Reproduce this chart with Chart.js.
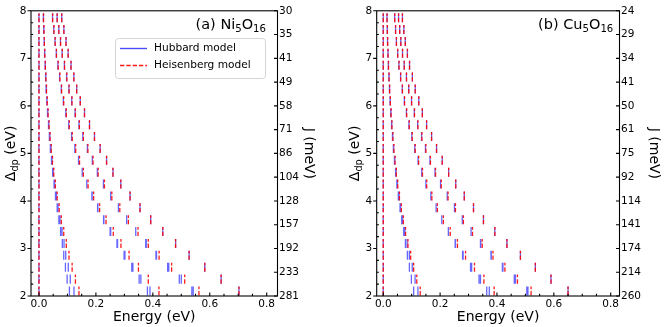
<!DOCTYPE html>
<html>
<head>
<meta charset="utf-8">
<script src="https://cdn.jsdelivr.net/npm/chart.js@4.4.1/dist/chart.umd.min.js"></script>
<style>
  html, body { margin: 0; padding: 0; background: #fff; }
  #wrap { position: relative; width: 664px; height: 327px; overflow: hidden; }
  #wrap canvas { position: absolute; top: 0; }
</style>
</head>
<body>
<div id="wrap">
  <canvas id="chartNi" width="332" height="327" style="left:0"></canvas>
  <canvas id="chartCu" width="332" height="327" style="left:332px"></canvas>
</div>
<script>
// rows of Delta_dp (eV), one row of marks per value
const deltaRows = [2, 2.25, 2.5, 2.75, 3, 3.25, 3.5, 3.75, 4, 4.25, 4.5, 4.75, 5, 5.25, 5.5, 5.75, 6, 6.25, 6.5, 6.75, 7, 7.25, 7.5, 7.75];

// axis ticks
const energyTicks = [0, 0.2, 0.4, 0.6, 0.8];
const energyMinorTicks = [0.05, 0.1, 0.15, 0.25, 0.3, 0.35, 0.45, 0.5, 0.55, 0.65, 0.7, 0.75];
const deltaTicks = [2, 3, 4, 5, 6, 7, 8];
const deltaMinorTicks = [2.25, 2.5, 2.75, 3.25, 3.5, 3.75, 4.25, 4.5, 4.75, 5.25, 5.5, 5.75, 6.25, 6.5, 6.75, 7.25, 7.5, 7.75];
const jTickPos = [2, 2.5, 3, 3.5, 4, 4.5, 5, 5.5, 6, 6.5, 7, 7.5, 8];
const jTicksNi = ['281', '233', '192', '157', '128', '104', '86', '71', '58', '49', '41', '35', '30'];
const jTicksCu = ['260', '214', '174', '141', '114', '92', '75', '61', '50', '41', '34', '29', '24'];

const zeros = [0, 0, 0, 0, 0, 0, 0, 0, 0, 0, 0, 0, 0, 0, 0, 0, 0, 0, 0, 0, 0, 0, 0, 0];

// ---- Ni5O16 : Heisenberg levels (eV)
const heisNi1 = [0.1405, 0.128, 0.1165, 0.1055, 0.096, 0.087, 0.0785, 0.071, 0.064, 0.0575, 0.052, 0.0475, 0.043, 0.039, 0.0355, 0.032, 0.029, 0.0265, 0.0245, 0.0225, 0.0205, 0.019, 0.0175, 0.016];
const heisNi2 = [0.4215, 0.384, 0.3495, 0.3165, 0.288, 0.261, 0.2355, 0.213, 0.192, 0.1725, 0.156, 0.1425, 0.129, 0.117, 0.1065, 0.096, 0.087, 0.0795, 0.0735, 0.0675, 0.0615, 0.057, 0.0525, 0.048];
const heisNi3 = [0.562, 0.512, 0.466, 0.422, 0.384, 0.348, 0.314, 0.284, 0.256, 0.23, 0.208, 0.19, 0.172, 0.156, 0.142, 0.128, 0.116, 0.106, 0.098, 0.09, 0.082, 0.076, 0.07, 0.064];
const heisNi4 = [0.7025, 0.64, 0.5825, 0.5275, 0.48, 0.435, 0.3925, 0.355, 0.32, 0.2875, 0.26, 0.2375, 0.215, 0.195, 0.1775, 0.16, 0.145, 0.1325, 0.1225, 0.1125, 0.1025, 0.095, 0.0875, 0.08];
// ---- Ni5O16 : Hubbard levels (eV)
const hubNi1a = [0.107, 0.099, 0.093, 0.087, 0.082, 0.076, 0.070, 0.064, 0.058, 0.053, 0.048, 0.044, 0.040, 0.0365, 0.0335, 0.030, 0.0275, 0.025, 0.0233, 0.0215, 0.0196, 0.0182, 0.0168, 0.0154];
const hubNi1b = [0.123, 0.110, 0.103, 0.094, 0.088, 0.081, 0.074, 0.067, 0.061, 0.055, 0.050, 0.046, 0.042, 0.038, 0.0345, 0.031, 0.028, 0.026, 0.024, 0.022, 0.020, 0.0186, 0.0172, 0.0157];
const hubNi2a = [0.381, 0.352, 0.326, 0.299, 0.274, 0.250, 0.227, 0.206, 0.186, 0.168, 0.152, 0.139, 0.126, 0.1145, 0.1045, 0.0943, 0.0856, 0.0783, 0.0725, 0.0666, 0.0608, 0.0564, 0.052, 0.0476];
const hubNi2b = [0.390, 0.358, 0.330, 0.302, 0.276, 0.252, 0.228, 0.207, 0.187, 0.168, 0.152, 0.139, 0.126, 0.1145, 0.1045, 0.0943, 0.0856, 0.0783, 0.0725, 0.0666, 0.0608, 0.0564, 0.052, 0.0476];
const hubNi3a = [0.537, 0.493, 0.452, 0.411, 0.375, 0.340, 0.308, 0.279, 0.252, 0.2265, 0.205, 0.1875, 0.170, 0.154, 0.1405, 0.1268, 0.115, 0.105, 0.097, 0.0892, 0.0813, 0.0754, 0.0695, 0.0636];
const hubNi3b = [0.542, 0.500, 0.456, 0.413, 0.377, 0.340, 0.308, 0.279, 0.252, 0.2265, 0.205, 0.1875, 0.170, 0.154, 0.1405, 0.1268, 0.115, 0.105, 0.097, 0.0892, 0.0813, 0.0754, 0.0695, 0.0636];
const hubNi4 = [0.7025, 0.64, 0.5825, 0.5275, 0.48, 0.435, 0.3925, 0.355, 0.32, 0.2875, 0.26, 0.2375, 0.215, 0.195, 0.1775, 0.16, 0.145, 0.1325, 0.1225, 0.1125, 0.1025, 0.095, 0.0875, 0.08];

// ---- Cu5O16 : Heisenberg levels (eV)
const heisCu1 = [0.130, 0.118, 0.107, 0.0965, 0.087, 0.0785, 0.0705, 0.0635, 0.057, 0.051, 0.046, 0.0415, 0.0375, 0.034, 0.0305, 0.0275, 0.025, 0.0225, 0.0205, 0.0185, 0.017, 0.0155, 0.0145, 0.0135];
const heisCu2 = [0.390, 0.354, 0.321, 0.2895, 0.261, 0.2355, 0.2115, 0.1905, 0.171, 0.153, 0.138, 0.1245, 0.1125, 0.102, 0.0915, 0.0825, 0.075, 0.0675, 0.0615, 0.0555, 0.051, 0.0465, 0.0435, 0.0405];
const heisCu3 = [0.520, 0.472, 0.428, 0.386, 0.348, 0.314, 0.282, 0.254, 0.228, 0.204, 0.184, 0.166, 0.150, 0.136, 0.122, 0.110, 0.100, 0.090, 0.082, 0.074, 0.068, 0.062, 0.058, 0.054];
const heisCu4 = [0.650, 0.590, 0.535, 0.4825, 0.435, 0.3925, 0.3525, 0.3175, 0.285, 0.255, 0.230, 0.2075, 0.1875, 0.170, 0.1525, 0.1375, 0.125, 0.1125, 0.1025, 0.0925, 0.085, 0.0775, 0.0725, 0.0675];
// ---- Cu5O16 : Hubbard levels (eV)
const hubCu1a = [0.107, 0.099, 0.092, 0.085, 0.078, 0.072, 0.065, 0.059, 0.053, 0.048, 0.0435, 0.0395, 0.0357, 0.0325, 0.0292, 0.0264, 0.024, 0.0217, 0.0198, 0.0179, 0.0165, 0.015, 0.0141, 0.0131];
const hubCu1b = [0.122, 0.112, 0.102, 0.092, 0.084, 0.076, 0.068, 0.0615, 0.0555, 0.0497, 0.045, 0.0405, 0.0366, 0.0333, 0.0299, 0.027, 0.0246, 0.0221, 0.0202, 0.0182, 0.0167, 0.0152, 0.0143, 0.0133];
const hubCu2a = [0.364, 0.337, 0.307, 0.279, 0.253, 0.229, 0.206, 0.186, 0.1675, 0.150, 0.1355, 0.1225, 0.1108, 0.1005, 0.0903, 0.0815, 0.0742, 0.0668, 0.0609, 0.055, 0.0506, 0.0462, 0.0432, 0.0402];
const hubCu2b = [0.373, 0.342, 0.311, 0.281, 0.254, 0.229, 0.206, 0.186, 0.1675, 0.150, 0.1355, 0.1225, 0.1108, 0.1005, 0.0903, 0.0815, 0.0742, 0.0668, 0.0609, 0.055, 0.0506, 0.0462, 0.0432, 0.0402];
const hubCu3a = [0.505, 0.461, 0.419, 0.379, 0.342, 0.309, 0.278, 0.2505, 0.225, 0.2015, 0.182, 0.1643, 0.1485, 0.1348, 0.121, 0.1092, 0.0993, 0.0894, 0.0815, 0.0736, 0.0677, 0.0617, 0.0578, 0.0538];
const hubCu3b = [0.509, 0.465, 0.421, 0.380, 0.343, 0.309, 0.278, 0.2505, 0.225, 0.2015, 0.182, 0.1643, 0.1485, 0.1348, 0.121, 0.1092, 0.0993, 0.0894, 0.0815, 0.0736, 0.0677, 0.0617, 0.0578, 0.0538];
const hubCu4 = [0.650, 0.590, 0.535, 0.4825, 0.435, 0.3925, 0.3525, 0.3175, 0.285, 0.255, 0.230, 0.2075, 0.1875, 0.170, 0.1525, 0.1375, 0.125, 0.1125, 0.1025, 0.0925, 0.085, 0.0775, 0.0725, 0.0675];

const FONT = '"DejaVu Sans", "Liberation Sans", sans-serif';
const BLUE = 'rgba(0, 0, 255, 0.6)';
const RED = 'rgba(255, 0, 0, 0.9)';
const DASH = [4.4, 1.9];

// each level -> short vertical marks, one per Delta row, separated by gaps
function marks(levels) {
  const pts = [];
  levels.forEach(level => {
    level.forEach((e, i) => {
      pts.push({ x: e, y: deltaRows[i] + 0.01 }, { x: e, y: deltaRows[i] + 0.2 }, { x: e, y: null });
    });
  });
  return pts;
}

function drawRich(ctx, parts, x, y, size, align) {
  const sub = size * 0.7;
  const widths = parts.map(([t, s]) => {
    ctx.font = (s ? sub : size) + 'px ' + FONT;
    return ctx.measureText(t).width;
  });
  const total = widths.reduce((a, b) => a + b, 0);
  let cx = align === 'right' ? x - total : (align === 'center' ? x - total / 2 : x);
  ctx.textAlign = 'left';
  ctx.textBaseline = 'alphabetic';
  parts.forEach(([t, s], i) => {
    ctx.font = (s ? sub : size) + 'px ' + FONT;
    ctx.fillText(t, cx, s ? y + size * 0.22 : y);
    cx += widths[i];
  });
}

function decorPlugin(p) {
  return {
    id: 'decor',
    afterDraw(chart) {
      const { ctx, chartArea: a } = chart;
      const sx = chart.scales.x, sy = chart.scales.y;
      ctx.save();
      ctx.strokeStyle = '#000';
      ctx.lineWidth = 1.1;
      ctx.strokeRect(a.left, a.top, a.right - a.left, a.bottom - a.top);
      ctx.beginPath();
      deltaTicks.forEach(v => { const py = sy.getPixelForValue(v); ctx.moveTo(a.left - 3.5, py); ctx.lineTo(a.left, py); });
      deltaMinorTicks.forEach(v => { const py = sy.getPixelForValue(v); ctx.moveTo(a.left, py); ctx.lineTo(a.left + 2.2, py); });
      jTickPos.forEach(v => { const py = sy.getPixelForValue(v); ctx.moveTo(a.right, py); ctx.lineTo(a.right - 3.5, py); });
      energyTicks.forEach(v => { const px = sx.getPixelForValue(v); ctx.moveTo(px, a.bottom); ctx.lineTo(px, a.bottom - 3.5); });
      energyMinorTicks.forEach(v => { const px = sx.getPixelForValue(v); ctx.moveTo(px, a.bottom); ctx.lineTo(px, a.bottom - 2.2); });
      ctx.stroke();

      ctx.fillStyle = '#000';
      // axis titles
      drawRich(ctx, [['Energy (eV)', 0]], (a.left + a.right) / 2, 321, 14, 'center');
      const midY = (a.top + a.bottom) / 2;
      ctx.save();
      ctx.translate(p.deltaLabelX, midY);
      ctx.rotate(-Math.PI / 2);
      drawRich(ctx, [['\u0394', 0], ['dp', 1], [' (eV)', 0]], 0, 0, 14, 'center');
      ctx.restore();
      ctx.save();
      ctx.translate(p.jLabelX, midY);
      ctx.rotate(Math.PI / 2);
      drawRich(ctx, [['J (meV)', 0]], 0, 0, 14, 'center');
      ctx.restore();

      // panel label
      drawRich(ctx, p.title, p.titleRight, 28.5, 14.5, 'right');

      if (p.legend) {
        ctx.beginPath();
        ctx.roundRect(115.5, 38.5, 150, 40, 3);
        ctx.fillStyle = 'rgba(255,255,255,0.8)';
        ctx.fill();
        ctx.strokeStyle = '#d4d4d4';
        ctx.lineWidth = 1;
        ctx.stroke();
        ctx.lineWidth = 1.4;
        ctx.strokeStyle = 'rgba(0, 0, 255, 0.7)';
        ctx.beginPath(); ctx.moveTo(120, 48.5); ctx.lineTo(147, 48.5); ctx.stroke();
        ctx.strokeStyle = RED;
        ctx.setLineDash(DASH);
        ctx.beginPath(); ctx.moveTo(120, 65.5); ctx.lineTo(147, 65.5); ctx.stroke();
        ctx.setLineDash([]);
        ctx.fillStyle = '#000';
        ctx.font = '10.6px ' + FONT;
        ctx.textAlign = 'left';
        ctx.textBaseline = 'middle';
        ctx.fillText('Hubbard model', 154, 48.5);
        ctx.fillText('Heisenberg model', 154, 65.5);
      }
      ctx.restore();
    }
  };
}

function makePanel(p) {
  const tickFont = { family: FONT, size: 10.5 };
  const noGrid = { display: false, drawTicks: false, tickLength: 0 };
  return new Chart(document.getElementById(p.canvas), {
    type: 'line',
    data: {
      datasets: [
        { label: 'Heisenberg model', data: marks(p.heis), borderColor: RED, borderWidth: 1.3, borderDash: DASH,
          pointRadius: 0, fill: false, tension: 0, spanGaps: false, borderCapStyle: 'butt' },
        { label: 'Hubbard model', data: marks(p.hub), borderColor: BLUE, borderWidth: 1.3,
          pointRadius: 0, fill: false, tension: 0, spanGaps: false, borderCapStyle: 'butt' }
      ]
    },
    options: {
      responsive: false,
      animation: false,
      events: [],
      layout: { padding: { top: 6, left: 0, right: 0, bottom: 0 } },
      plugins: { legend: { display: false }, tooltip: { enabled: false } },
      scales: {
        x: {
          type: 'linear', position: 'bottom', min: p.xMin, max: p.xMax,
          grid: noGrid, border: { display: false },
          ticks: { font: tickFont, color: '#000', padding: 2, maxRotation: 0, autoSkip: false, callback: v => v.toFixed(1) },
          afterBuildTicks: s => { s.ticks = energyTicks.map(v => ({ value: v })); },
          afterFit: s => { s.height = 31; }
        },
        y: {
          type: 'linear', position: 'left', min: 2, max: 8,
          grid: noGrid, border: { display: false },
          ticks: { font: tickFont, color: '#000', padding: 4.5, autoSkip: false, callback: v => v.toFixed(0) },
          afterBuildTicks: s => { s.ticks = deltaTicks.map(v => ({ value: v })); },
          afterFit: s => { s.width = p.leftWidth; }
        },
        y2: {
          type: 'linear', position: 'right', min: 2, max: 8,
          grid: noGrid, border: { display: false },
          ticks: { font: tickFont, color: '#000', padding: 1.5, autoSkip: false, callback: (v, i) => p.jTicks[i] },
          afterBuildTicks: s => { s.ticks = jTickPos.map(v => ({ value: v })); },
          afterFit: s => { s.width = p.rightWidth; }
        }
      }
    },
    plugins: [decorPlugin(p)]
  });
}

makePanel({
  canvas: 'chartNi',
  heis: [zeros, heisNi1, heisNi2, heisNi3, heisNi4],
  hub: [zeros, hubNi1a, hubNi1b, hubNi2a, hubNi2b, hubNi3a, hubNi3b, hubNi4],
  jTicks: jTicksNi,
  xMin: -0.028, xMax: 0.838,
  leftWidth: 31, rightWidth: 54.5,
  deltaLabelX: 15.2, jLabelX: 304.8,
  title: [['(a) Ni', 0], ['5', 1], ['O', 0], ['16', 1]], titleRight: 266,
  legend: true
});

makePanel({
  canvas: 'chartCu',
  heis: [zeros, heisCu1, heisCu2, heisCu3, heisCu4],
  hub: [zeros, hubCu1a, hubCu1b, hubCu2a, hubCu2b, hubCu3a, hubCu3b, hubCu4],
  jTicks: jTicksCu,
  xMin: -0.023, xMax: 0.831,
  leftWidth: 44.7, rightWidth: 44.5,
  deltaLabelX: 27, jLabelX: 318,
  title: [['(b) Cu', 0], ['5', 1], ['O', 0], ['16', 1]], titleRight: 281.3,
  legend: false
});
</script>
</body>
</html>
